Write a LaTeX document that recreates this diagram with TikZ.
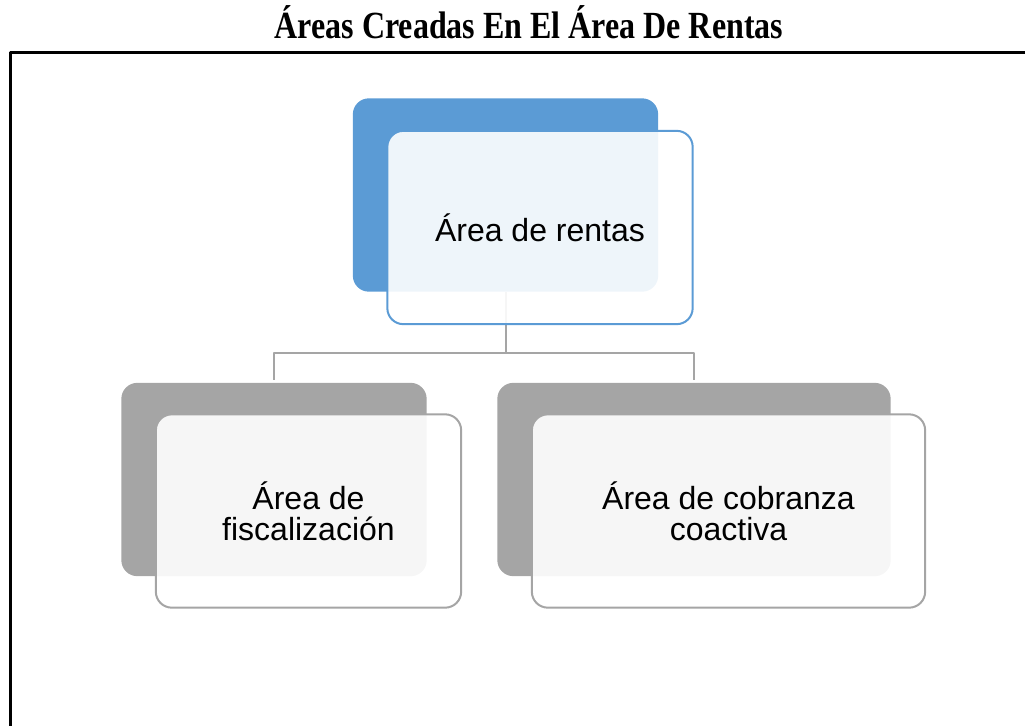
\documentclass[tikz,border=0pt]{standalone}
\usepackage{fontspec}
\usepackage{graphicx}
\setmainfont{Liberation Serif}
\setsansfont{Liberation Sans}
\usetikzlibrary{calc}
\definecolor{boxblue}{HTML}{5B9BD5}
\definecolor{boxgray}{HTML}{A5A5A5}
\tikzset{
  backbox/.style = {rectangle, rounded corners=12pt, inner sep=0pt, minimum height=145pt, fill=#1},
  frontbox/.style = {rectangle, rounded corners=12pt, inner sep=0pt, minimum height=145pt, draw=#1, line width=1.5pt,
    fill=white, fill opacity=0.9, text opacity=1, align=center, font=\sffamily\fontsize{24}{23}\selectfont},
  link/.style = {draw=boxgray, line width=1.5pt}
}

\begin{document}
\begin{tikzpicture}[x=0.75pt, y=-0.75pt, line join = round]
    \useasboundingbox (0,0) rectangle (1025,725);
    \node[anchor=base, font=\bfseries\fontsize{24}{28}\selectfont] (title) at (529,38) {\scalebox{1}[1.2]{Áreas Creadas En El Área De Rentas}};
    \draw[line width=2.25pt] (1030,52.5) -- (10.5,52.5) -- (10.5,730);
    % back boxes
    \node[backbox=boxblue, minimum width=229pt] (rentasB) at (505.5,195) {};
    \node[backbox=boxgray, minimum width=229pt] (fiscB) at (274,479.5) {};
    \node[backbox=boxgray, minimum width=295pt] (cobB) at (694,479.5) {};
    % connectors
    \coordinate (hub) at (505.5,353);
    \draw[link] (rentasB.south) -- (hub);
    \draw[link, shorten >=2pt] (hub) -| (fiscB.north);
    \draw[link, shorten >=2pt] (hub) -| (cobB.north);
    % front boxes
    \node[frontbox=boxblue, minimum width=229pt] (rentasF) at (540,227.5) {Área de rentas};
    \node[frontbox=boxgray, minimum width=229pt] (fiscF) at (308.5,511) {Área de\\fiscalización};
    \node[frontbox=boxgray, minimum width=295pt] (cobF) at (728.5,511) {Área de cobranza\\coactiva};
\end{tikzpicture}
\end{document}
